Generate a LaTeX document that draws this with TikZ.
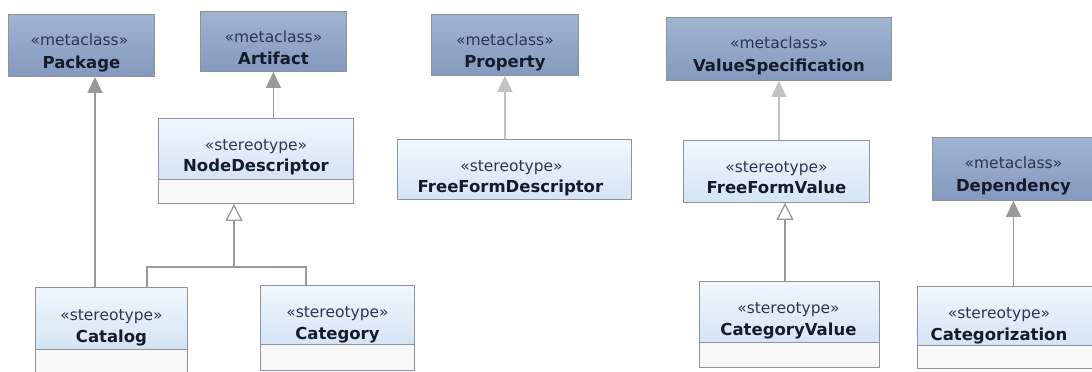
\documentclass[tikz,border=0pt]{standalone}
\usepackage{fontspec}
\setmainfont{DejaVu Sans}
\usetikzlibrary{arrows.meta,calc}
\definecolor{metatop}{HTML}{A0B4D2}
\definecolor{metabot}{HTML}{8399BE}
\definecolor{sttop}{HTML}{F1F7FD}
\definecolor{stbot}{HTML}{D4E4F5}
\definecolor{compfill}{HTML}{F8F8F8}
\definecolor{boxline}{HTML}{8E949C}
\definecolor{conn}{HTML}{999999}
\definecolor{connlight}{HTML}{C2C2C2}
\definecolor{txt}{HTML}{151B2A}
\definecolor{kwtxt}{HTML}{2B3652}
\tikzset{
  meta/.style={draw=boxline, line width=0.9pt, top color=metatop, bottom color=metabot, anchor=north west, inner sep=0pt},
  stbox/.style={draw=boxline, line width=0.9pt, top color=sttop, bottom color=stbot, anchor=north west, inner sep=0pt},
  comp/.style={draw=boxline, line width=0.9pt, fill=compfill, anchor=north west, inner sep=0pt},
  kw/.style={font=\fontsize{15.5}{18}\selectfont, text=kwtxt, anchor=base, inner sep=0pt},
  nm/.style={font=\bfseries\fontsize{16.5}{19}\selectfont, text=txt, anchor=base, inner sep=0pt},
  ext/.style={draw=conn, line width=1.6pt, -{Triangle[length=16pt,width=15pt]}},
  extl/.style={draw=connlight, line width=1.6pt, -{Triangle[length=16pt,width=15pt]}},
  gen/.style={draw=conn, line width=1.3pt, -{Triangle[open,length=17pt,width=17pt,fill=white]}},
  genl/.style={draw=conn, line width=1.3pt},
}
\begin{document}
\begin{tikzpicture}[x=1pt,y=-1pt]
\useasboundingbox (0,0) rectangle (1092,372);
\begin{scope}
\clip (0,0) rectangle (1092,372);
% metaclasses
\node[meta, minimum width=146pt, minimum height=62pt] (pkg) at (8,14) {};
\node[meta, minimum width=146pt, minimum height=60pt] (art) at (200,11) {};
\node[meta, minimum width=147pt, minimum height=61pt] (prop) at (431,14) {};
\node[meta, minimum width=225pt, minimum height=63pt] (vs) at (666,17) {};
\node[meta, minimum width=170pt, minimum height=63pt] (dep) at (932,137) {};
% stereotypes
\node[stbox, minimum width=195pt, minimum height=61pt] (nd) at (158,118) {};
\node[comp, minimum width=195pt, minimum height=24pt] (ndc) at (158,179) {};
\node[stbox, minimum width=234pt, minimum height=60pt] (ffd) at (397,139) {};
\node[stbox, minimum width=186pt, minimum height=62pt] (ffv) at (683,140) {};
\node[stbox, minimum width=152pt, minimum height=62pt] (cat) at (35,287) {};
\node[comp, minimum width=152pt, minimum height=30pt] (catc) at (35,349) {};
\node[stbox, minimum width=154pt, minimum height=59pt] (cgy) at (260,285) {};
\node[comp, minimum width=154pt, minimum height=26pt] (cgyc) at (260,344) {};
\node[stbox, minimum width=180pt, minimum height=61pt] (cv) at (699,281) {};
\node[comp, minimum width=180pt, minimum height=25pt] (cvc) at (699,342) {};
\node[stbox, minimum width=185pt, minimum height=59pt] (cgz) at (917,286) {};
\node[comp, minimum width=185pt, minimum height=23pt] (cgzc) at (917,345) {};
\end{scope}
% texts
\node[kw] (pkg-k) at ($(pkg.north)+(-2,31)$) {«metaclass»};
\node[nm] (pkg-n) at ($(pkg.north)+(0,54)$) {Package};
\node[kw] (art-k) at ($(art.north)+(0,31)$) {«metaclass»};
\node[nm] (art-n) at ($(art.north)+(0,53)$) {Artifact};
\node[kw] (prop-k) at ($(prop.north)+(0,31)$) {«metaclass»};
\node[nm] (prop-n) at ($(prop.north)+(0,53)$) {Property};
\node[kw] (vs-k) at ($(vs.north)+(0,31)$) {«metaclass»};
\node[nm] (vs-n) at ($(vs.north)+(0,54)$) {ValueSpecification};
\node[kw] (dep-k) at ($(dep.north)+(-4,31)$) {«metaclass»};
\node[nm] (dep-n) at ($(dep.north)+(-4,54)$) {Dependency};
\node[kw] (nd-k) at ($(nd.north)+(0,32)$) {«stereotype»};
\node[nm] (nd-n) at ($(nd.north)+(0,53)$) {NodeDescriptor};
\node[kw] (ffd-k) at ($(ffd.north)+(-3,32)$) {«stereotype»};
\node[nm] (ffd-n) at ($(ffd.north)+(-4,53)$) {FreeFormDescriptor};
\node[kw] (ffv-k) at ($(ffv.north)+(0,32)$) {«stereotype»};
\node[nm] (ffv-n) at ($(ffv.north)+(0,53)$) {FreeFormValue};
\node[kw] (cat-k) at ($(cat.north)+(0,33)$) {«stereotype»};
\node[nm] (cat-n) at ($(cat.north)+(0,55)$) {Catalog};
\node[kw] (cgy-k) at ($(cgy.north)+(0,32)$) {«stereotype»};
\node[nm] (cgy-n) at ($(cgy.north)+(0,54)$) {Category};
\node[kw] (cv-k) at ($(cv.north)+(-1,32)$) {«stereotype»};
\node[nm] (cv-n) at ($(cv.north)+(-1,54)$) {CategoryValue};
\node[kw] (cgz-k) at ($(cgz.north)+(-11,32)$) {«stereotype»};
\node[nm] (cgz-n) at ($(cgz.north)+(-11,54)$) {Categorization};
% connector x positions
\coordinate (xpkg) at (95,0);
\coordinate (xgen) at (234,0);
\coordinate (xcat) at (147,0);
\coordinate (xcgy) at (306,0);
\coordinate (xcv) at (785,0);
\coordinate (xdep) at (1013.5,0);
\coordinate (junc) at (234,267);
% extensions
\draw[ext] (cat.north -| xpkg) -- (pkg.south -| xpkg);
\draw[ext] (nd.north -| art.south) -- (art.south);
\draw[extl] (ffd.north -| prop.south) -- (prop.south);
\draw[extl] (ffv.north -| vs.south) -- (vs.south);
\draw[ext] (cgz.north -| xdep) -- (dep.south -| xdep);
% generalizations
\draw[genl] (cat.north -| xcat) |- (junc) -| (cgy.north -| xcgy);
\draw[gen] (junc) -- (ndc.south -| xgen);
\draw[gen] (cv.north -| xcv) -- (ffv.south -| xcv);
\end{tikzpicture}
\end{document}
